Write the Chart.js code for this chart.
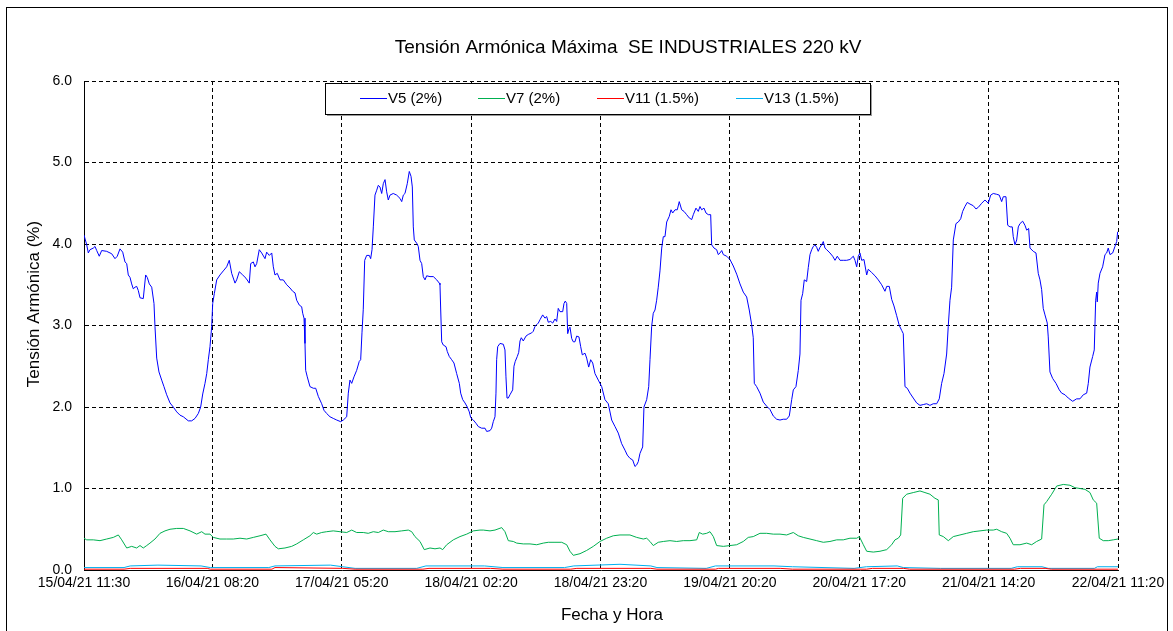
<!DOCTYPE html>
<html>
<head>
<meta charset="utf-8">
<script src="https://cdn.jsdelivr.net/npm/chart.js@4.4.1/dist/chart.umd.min.js"></script>
<style>
  html, body { margin: 0; padding: 0; background: #fff; }
  #wrap { position: relative; width: 1173px; height: 631px; }
  canvas { display: block; }
</style>
</head>
<body>
<div id="wrap"><canvas id="c" width="1173" height="631"></canvas></div>
<script>
// ---------- DATA ----------
const chartTitle = 'Tensión Armónica Máxima  SE INDUSTRIALES 220 kV';
const xAxisTitle = 'Fecha y Hora';
const yAxisTitle = 'Tensión Armónica (%)';
const xTickLabels = ['15/04/21 11:30', '16/04/21 08:20', '17/04/21 05:20', '18/04/21 02:20',
  '18/04/21 23:20', '19/04/21 20:20', '20/04/21 17:20', '21/04/21 14:20', '22/04/21 11:20'];
const yTickValues = [0, 1, 2, 3, 4, 5, 6];
const seriesNames = ['V5 (2%)', 'V7 (2%)', 'V11 (1.5%)', 'V13 (1.5%)'];

// [hours since 15/04/21 11:30, value %]
const v5Points = [[0,4.11],[0.44,3.99],[0.70,3.89],[0.97,3.93],[1.51,3.95],[1.79,3.97],[2.06,3.92],[2.48,3.85],[2.87,3.92],[3.68,3.91],[4.50,3.88],[5.03,3.82],[5.40,3.85],[5.84,3.94],[6.28,3.90],[6.65,3.78],[6.93,3.76],[7.19,3.62],[7.47,3.59],[7.74,3.51],[8.00,3.45],[8.28,3.47],[8.55,3.48],[8.81,3.43],[9.09,3.34],[9.62,3.33],[10.01,3.62],[10.27,3.59],[10.60,3.51],[10.99,3.47],[11.36,3.27],[11.52,2.99],[11.80,2.60],[12.17,2.43],[12.61,2.33],[12.98,2.25],[13.42,2.15],[13.96,2.05],[14.49,2.00],[15.05,1.94],[15.58,1.90],[16.12,1.88],[16.93,1.83],[17.48,1.83],[18.02,1.86],[18.55,1.92],[18.94,2.00],[19.27,2.16],[19.64,2.29],[19.92,2.41],[20.18,2.58],[20.45,2.74],[20.73,2.99],[20.89,3.27],[21.15,3.39],[21.54,3.56],[22.07,3.62],[22.61,3.67],[23.16,3.72],[23.58,3.80],[23.97,3.64],[24.51,3.52],[24.78,3.56],[25.21,3.66],[25.76,3.62],[26.29,3.58],[26.83,3.52],[27.06,3.76],[27.48,3.78],[27.76,3.72],[28.03,3.76],[28.45,3.93],[28.84,3.89],[29.38,3.82],[29.65,3.90],[30.08,3.86],[30.47,3.89],[30.73,3.72],[31.00,3.62],[31.37,3.64],[31.81,3.56],[32.35,3.56],[32.90,3.50],[33.44,3.46],[33.87,3.42],[34.25,3.40],[34.52,3.31],[34.95,3.25],[35.33,3.23],[35.50,3.15],[35.71,3.09],[35.87,2.78],[35.98,2.45],[36.24,2.37],[36.68,2.25],[37.22,2.23],[37.61,2.23],[38.03,2.13],[38.58,2.04],[38.95,1.96],[39.39,1.92],[39.93,1.88],[40.46,1.86],[41.02,1.84],[41.66,1.82],[42.09,1.84],[42.64,1.88],[42.90,2.17],[43.17,2.33],[43.45,2.29],[43.82,2.37],[44.26,2.45],[44.68,2.56],[44.91,2.58],[45.12,2.91],[45.33,3.20],[45.56,3.80],[45.88,3.86],[46.31,3.86],[46.53,3.82],[46.75,3.93],[46.96,4.21],[47.23,4.60],[47.51,4.66],[47.77,4.72],[48.04,4.70],[48.32,4.62],[48.58,4.74],[48.86,4.79],[49.13,4.64],[49.39,4.54],[49.67,4.60],[50.20,4.62],[50.75,4.60],[51.29,4.56],[51.57,4.52],[51.83,4.60],[52.10,4.62],[52.47,4.74],[52.80,4.89],[53.08,4.83],[53.29,4.70],[53.45,4.21],[53.61,4.05],[54.00,4.01],[54.26,3.97],[54.54,3.80],[54.81,3.76],[55.07,3.60],[55.35,3.56],[55.62,3.61],[56.16,3.60],[56.70,3.60],[57.25,3.56],[57.67,3.52],[57.78,3.50],[57.90,3.19],[58.06,2.80],[58.32,2.76],[58.76,2.74],[58.97,2.68],[59.29,2.62],[59.68,2.58],[60.05,2.54],[60.49,2.41],[60.92,2.29],[61.14,2.17],[61.47,2.09],[61.84,2.05],[62.21,2.00],[62.54,1.94],[62.77,1.87],[63.19,1.84],[63.63,1.80],[64.00,1.76],[64.55,1.74],[65.09,1.74],[65.36,1.70],[65.90,1.71],[66.17,1.74],[66.43,1.82],[66.71,1.88],[66.87,2.17],[66.98,2.58],[67.15,2.74],[67.52,2.78],[68.06,2.77],[68.33,2.70],[68.49,2.37],[68.66,2.11],[68.87,2.11],[69.14,2.15],[69.58,2.21],[69.79,2.50],[70.00,2.56],[70.33,2.62],[70.56,2.67],[70.77,2.81],[70.98,2.85],[71.30,2.81],[71.74,2.87],[72.11,2.89],[72.67,2.91],[72.93,2.93],[73.20,2.99],[73.48,3.01],[73.74,3.03],[74.01,3.07],[74.45,3.13],[74.82,3.09],[75.10,3.11],[75.36,3.04],[75.75,3.05],[76.08,3.03],[76.45,3.08],[76.72,3.05],[76.98,3.21],[77.26,3.17],[77.70,3.17],[77.91,3.27],[78.12,3.30],[78.35,3.27],[78.51,2.90],[78.72,2.96],[78.88,2.98],[79.16,2.84],[79.42,2.80],[79.69,2.80],[79.97,2.87],[80.34,2.86],[80.62,2.74],[80.88,2.64],[81.32,2.66],[81.59,2.60],[81.92,2.49],[82.24,2.58],[82.57,2.54],[82.94,2.41],[83.48,2.33],[84.03,2.25],[84.56,2.09],[85.10,2.04],[85.65,1.84],[86.19,1.76],[86.72,1.68],[87.27,1.55],[87.81,1.47],[88.18,1.41],[88.62,1.37],[89.06,1.35],[89.43,1.27],[89.71,1.29],[89.97,1.33],[90.24,1.43],[90.68,1.51],[90.89,2.00],[91.33,2.09],[91.66,2.25],[91.87,2.58],[92.14,2.99],[92.40,3.15],[92.68,3.19],[92.95,3.31],[93.21,3.47],[93.49,3.67],[93.77,3.95],[94.03,4.09],[94.30,4.09],[94.58,4.27],[95.00,4.34],[95.28,4.42],[95.55,4.38],[95.93,4.42],[96.30,4.42],[96.62,4.52],[97.01,4.42],[97.39,4.40],[97.82,4.36],[98.24,4.32],[98.64,4.30],[98.90,4.36],[99.33,4.44],[99.71,4.40],[99.98,4.46],[100.26,4.42],[100.63,4.44],[100.96,4.38],[101.33,4.36],[101.72,4.36],[101.88,3.99],[102.26,3.95],[102.69,3.93],[102.95,3.87],[103.23,3.89],[103.51,3.92],[103.77,3.87],[104.32,3.85],[104.85,3.81],[105.39,3.73],[105.94,3.63],[106.48,3.51],[107.01,3.41],[107.56,3.35],[107.98,3.19],[108.37,3.01],[108.63,2.85],[108.80,2.29],[109.18,2.25],[109.72,2.17],[110.26,2.06],[110.81,2.01],[111.34,1.97],[111.88,1.89],[112.43,1.85],[112.97,1.84],[113.50,1.85],[114.05,1.85],[114.48,1.89],[114.87,2.09],[115.13,2.21],[115.56,2.25],[115.94,2.45],[116.21,2.65],[116.38,3.31],[116.65,3.39],[116.91,3.56],[117.30,3.54],[117.56,3.71],[117.84,3.87],[118.11,3.93],[118.37,3.97],[118.65,3.99],[118.92,3.96],[119.18,3.91],[119.46,3.96],[119.74,3.99],[120.00,4.03],[120.27,3.95],[120.55,3.93],[121.08,3.89],[121.52,3.85],[121.90,3.80],[122.27,3.85],[122.71,3.80],[123.24,3.80],[123.79,3.80],[124.33,3.81],[124.87,3.85],[125.14,3.80],[125.42,3.72],[125.68,3.85],[125.95,3.89],[126.23,3.80],[126.60,3.81],[127.04,3.62],[127.30,3.69],[127.85,3.65],[128.39,3.61],[128.92,3.56],[129.47,3.50],[130.01,3.42],[130.29,3.48],[130.71,3.48],[131.10,3.32],[131.47,3.24],[131.91,3.12],[132.33,3.00],[132.72,2.94],[132.98,2.90],[133.26,2.25],[133.63,2.23],[134.07,2.17],[134.60,2.11],[135.15,2.05],[135.69,2.02],[136.23,2.03],[136.78,2.04],[137.31,2.02],[137.85,2.04],[138.40,2.04],[138.82,2.10],[139.21,2.29],[139.59,2.41],[140.02,2.65],[140.28,2.99],[140.56,3.31],[140.83,3.47],[141.10,4.05],[141.53,4.25],[141.91,4.27],[142.30,4.31],[142.62,4.40],[142.99,4.46],[143.37,4.51],[143.81,4.49],[144.34,4.47],[144.78,4.43],[145.16,4.45],[145.71,4.50],[146.24,4.54],[146.78,4.50],[147.17,4.60],[147.59,4.62],[148.14,4.61],[148.56,4.60],[148.95,4.52],[149.21,4.58],[149.65,4.58],[149.93,4.23],[150.30,4.21],[150.67,4.21],[150.83,4.09],[151.11,3.99],[151.39,4.05],[151.65,4.21],[151.92,4.25],[152.36,4.28],[152.73,4.23],[153.01,4.17],[153.33,4.19],[153.55,3.95],[154.08,3.91],[154.52,3.89],[154.89,3.64],[155.17,3.56],[155.44,3.44],[155.70,3.21],[155.98,3.13],[156.35,3.03],[156.51,2.86],[156.79,2.43],[157.23,2.35],[157.77,2.29],[158.30,2.21],[158.69,2.17],[159.23,2.15],[159.76,2.11],[160.48,2.07],[161.12,2.10],[161.66,2.10],[162.20,2.15],[162.75,2.17],[163.01,2.29],[163.28,2.49],[163.72,2.62],[163.98,2.70],[164.21,3.31],[164.37,3.41],[164.47,3.29],[164.63,3.52],[164.91,3.64],[165.34,3.72],[165.72,3.87],[165.99,3.89],[166.25,3.95],[166.53,3.87],[166.97,3.89],[167.34,3.97],[167.62,4.03],[167.78,4.15]];

const v7Points = [[0,0.39],[0.44,0.37],[1.51,0.37],[2.60,0.36],[3.68,0.38],[4.76,0.40],[5.57,0.43],[6.12,0.37],[6.93,0.27],[7.74,0.29],[8.55,0.27],[9.09,0.30],[9.62,0.27],[10.18,0.30],[10.71,0.33],[11.52,0.38],[12.34,0.45],[13.15,0.48],[13.96,0.50],[15.05,0.51],[16.12,0.51],[17.21,0.48],[18.29,0.44],[19.10,0.47],[19.64,0.44],[20.45,0.44],[20.99,0.40],[22.07,0.38],[23.16,0.38],[24.23,0.38],[25.32,0.39],[26.41,0.38],[27.48,0.40],[28.57,0.42],[29.54,0.44],[30.19,0.37],[31.00,0.29],[31.54,0.26],[32.62,0.27],[33.71,0.29],[34.52,0.32],[35.60,0.37],[36.68,0.42],[37.22,0.46],[37.77,0.44],[38.58,0.46],[39.39,0.47],[40.46,0.48],[41.55,0.47],[42.64,0.46],[43.45,0.49],[44.26,0.46],[45.33,0.46],[46.14,0.45],[46.96,0.47],[47.77,0.46],[48.58,0.49],[49.39,0.47],[50.48,0.47],[51.57,0.48],[52.64,0.49],[53.19,0.47],[53.72,0.41],[54.54,0.35],[55.23,0.25],[56.16,0.27],[56.97,0.26],[57.78,0.27],[58.22,0.25],[58.87,0.31],[59.94,0.37],[61.03,0.41],[62.12,0.44],[63.19,0.48],[64.27,0.49],[64.81,0.49],[65.90,0.48],[66.71,0.49],[67.80,0.52],[68.33,0.47],[68.87,0.36],[69.68,0.35],[70.23,0.33],[71.30,0.32],[72.39,0.32],[73.48,0.31],[74.55,0.33],[75.36,0.34],[76.45,0.34],[77.54,0.34],[78.35,0.31],[78.88,0.23],[79.42,0.18],[80.51,0.20],[81.59,0.24],[82.67,0.29],[83.75,0.35],[84.84,0.39],[85.91,0.42],[87.00,0.43],[88.62,0.43],[89.71,0.40],[90.78,0.38],[91.33,0.39],[91.87,0.35],[92.40,0.30],[93.21,0.34],[94.03,0.35],[95.11,0.36],[96.20,0.35],[97.27,0.36],[98.36,0.36],[99.45,0.37],[99.87,0.46],[100.42,0.44],[101.07,0.45],[101.61,0.47],[102.15,0.41],[102.69,0.30],[103.77,0.29],[104.85,0.30],[105.94,0.31],[107.01,0.35],[107.82,0.40],[108.63,0.41],[109.72,0.45],[110.81,0.45],[111.88,0.44],[112.97,0.44],[114.05,0.43],[115.13,0.46],[115.94,0.42],[116.75,0.40],[117.84,0.38],[118.92,0.36],[120.00,0.34],[121.08,0.35],[122.17,0.37],[123.24,0.37],[124.33,0.39],[125.42,0.39],[125.85,0.41],[126.50,0.31],[127.04,0.23],[128.11,0.22],[129.20,0.23],[130.29,0.25],[131.10,0.31],[131.63,0.37],[132.17,0.39],[132.56,0.43],[132.88,0.88],[133.53,0.93],[134.60,0.95],[135.69,0.97],[136.50,0.95],[137.31,0.93],[138.12,0.88],[138.66,0.86],[138.82,0.43],[139.48,0.41],[140.29,0.36],[141.10,0.41],[142.18,0.43],[143.27,0.45],[144.34,0.47],[145.43,0.48],[146.51,0.49],[147.59,0.49],[148.14,0.50],[148.95,0.47],[149.76,0.45],[150.30,0.39],[150.83,0.31],[151.92,0.31],[153.01,0.33],[153.82,0.31],[154.63,0.35],[155.44,0.38],[155.82,0.80],[156.26,0.84],[157.07,0.93],[157.88,1.03],[158.95,1.05],[160.04,1.04],[160.85,1.01],[161.66,1.00],[162.47,0.99],[163.28,0.95],[163.82,0.86],[164.37,0.82],[164.79,0.39],[165.44,0.36],[166.25,0.36],[167.06,0.37],[167.83,0.38]];

const v11Points = [[0,0.01],[6.5,0.01],[7.5,0.02],[20,0.02],[20.5,0.01],[30.5,0.01],[31,0.03],[42,0.02],[44,0.01],[55,0.01],[56,0.02],[66,0.02],[68,0.01],[79,0.01],[80,0.02],[92,0.02],[93,0.01],[102.5,0.01],[103,0.02],[113,0.02],[115,0.01],[127,0.01],[128,0.02],[133,0.02],[134,0.01],[151,0.01],[152,0.02],[156,0.02],[157,0.01],[167.83,0.01]];

const v13Points = [[0,0.03],[6.5,0.03],[7.5,0.05],[12,0.06],[19,0.05],[20.5,0.03],[30,0.03],[31,0.05],[40,0.06],[42,0.04],[44,0.02],[54,0.02],[55.5,0.05],[65,0.05],[68,0.03],[78,0.03],[79.5,0.05],[87,0.07],[92,0.05],[93,0.03],[101,0.02],[102.5,0.05],[112,0.05],[115,0.04],[125,0.02],[127,0.04],[132,0.05],[133,0.03],[139,0.02],[150.5,0.02],[151.5,0.04],[155.5,0.04],[156.5,0.02],[164,0.02],[164.5,0.04],[167.83,0.04]];

// ---------- helpers ----------
function labelTime(s) {
  const [d, t] = s.split(' ');
  const [dd, mm, yy] = d.split('/').map(Number);
  const [hh, mi] = t.split(':').map(Number);
  return Date.UTC(2000 + yy, mm - 1, dd, hh, mi);
}
const t0 = labelTime(xTickLabels[0]);
const tickHours = xTickLabels.map(l => (labelTime(l) - t0) / 3600000);
const spanHours = tickHours[tickHours.length - 1];

const FONT = "'Liberation Sans', Arial, sans-serif";
const colors = ['#0000FF', '#00B050', '#FF0000', '#00B0F0'];
const allSeries = [v5Points, v7Points, v11Points, v13Points];

const decorPlugin = {
  id: 'decor',
  beforeDraw(chart) {
    const ctx = chart.ctx;
    ctx.save();
    ctx.fillStyle = '#fff';
    ctx.fillRect(0, 0, chart.width, chart.height);
    ctx.strokeStyle = '#000';
    ctx.lineWidth = 1;
    ctx.strokeRect(6.5, 7.5, 1161, 700);
    ctx.restore();
  },
  afterDraw(chart) {
    const ctx = chart.ctx;
    ctx.save();
    ctx.fillStyle = '#000';
    ctx.textAlign = 'center';
    ctx.textBaseline = 'middle';
    ctx.font = '19px ' + FONT;
    ctx.fillText(chartTitle, 628, 48);
    ctx.font = '17px ' + FONT;
    ctx.fillText(xAxisTitle, 612, 615);
    ctx.save();
    ctx.translate(34, 304);
    ctx.rotate(-Math.PI / 2);
    ctx.fillText(yAxisTitle, 0, 0);
    ctx.restore();

    // legend box
    const bx = 325, by = 83, bw = 545, bh = 31;
    ctx.fillStyle = '#9a9a9a';
    ctx.fillRect(bx + 2, by + 2, bw, bh);
    ctx.fillStyle = '#fff';
    ctx.fillRect(bx, by, bw, bh);
    ctx.strokeStyle = '#000';
    ctx.lineWidth = 1;
    ctx.strokeRect(bx + 0.5, by + 0.5, bw, bh);
    const lineStarts = [360, 478, 597, 736];
    const ly = by + 15.5;
    ctx.font = '15px ' + FONT;
    ctx.textAlign = 'left';
    chart.data.datasets.forEach((ds, i) => {
      ctx.strokeStyle = ds.borderColor;
      ctx.beginPath();
      ctx.moveTo(lineStarts[i], ly);
      ctx.lineTo(lineStarts[i] + 27, ly);
      ctx.stroke();
      ctx.fillStyle = '#000';
      ctx.fillText(ds.label, lineStarts[i] + 28, ly);
    });
    ctx.restore();
  }
};

const gridCommon = { color: '#000', lineWidth: 1, drawTicks: false };
const borderCommon = { display: true, color: '#000', width: 1, dash: [4, 3] };

new Chart(document.getElementById('c'), {
  type: 'line',
  data: {
    datasets: allSeries.map((pts, i) => ({
      label: seriesNames[i],
      data: pts.map(([x, y]) => ({ x, y })),
      borderColor: colors[i],
      backgroundColor: colors[i],
      borderWidth: 1,
      pointRadius: 0,
      tension: 0,
      fill: false
    }))
  },
  options: {
    responsive: false,
    animation: false,
    devicePixelRatio: 1,
    layout: { padding: { left: 0, right: 55, top: 81, bottom: 0 } },
    plugins: { legend: { display: false }, title: { display: false }, tooltip: { enabled: false } },
    scales: {
      x: {
        type: 'linear',
        min: 0,
        max: spanHours,
        afterBuildTicks: s => { s.ticks = tickHours.map(v => ({ value: v })); },
        afterFit: s => { s.height = 61; },
        ticks: {
          autoSkip: false, maxRotation: 0, minRotation: 0, padding: 5,
          color: '#000', font: { family: FONT, size: 14 },
          callback: (v, i) => xTickLabels[i]
        },
        grid: gridCommon,
        border: borderCommon
      },
      y: {
        min: yTickValues[0],
        max: yTickValues[yTickValues.length - 1],
        afterBuildTicks: s => { s.ticks = yTickValues.map(v => ({ value: v })); },
        afterFit: s => { s.width = 84; },
        ticks: {
          padding: 12, color: '#000', font: { family: FONT, size: 14 },
          callback: v => Number(v).toFixed(1)
        },
        grid: gridCommon,
        border: borderCommon
      }
    }
  },
  plugins: [decorPlugin]
});
</script>
</body>
</html>
